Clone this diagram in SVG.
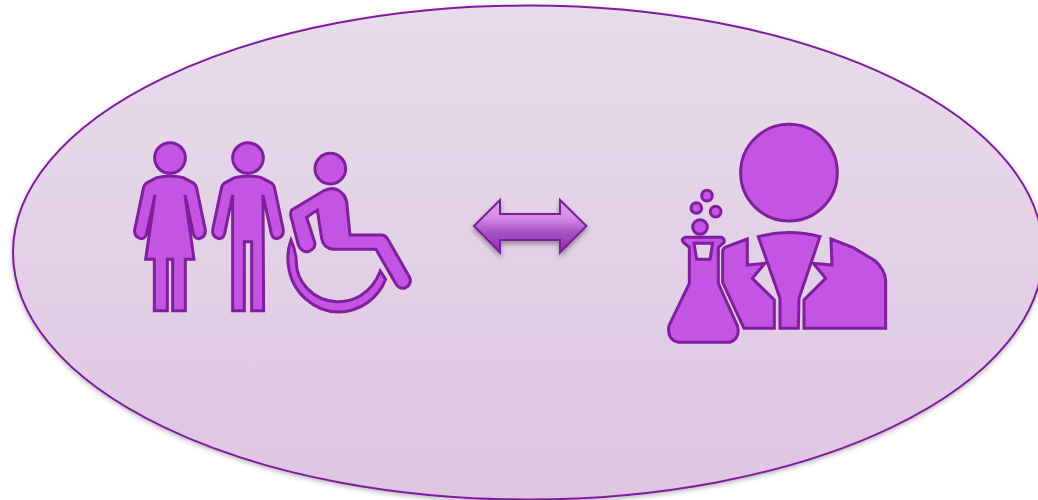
<svg xmlns="http://www.w3.org/2000/svg" width="1038" height="500" viewBox="0 0 1038 500">
<defs>
<linearGradient id="bg" x1="0" y1="0" x2="0" y2="1"><stop offset="0" stop-color="#e7dcea"/><stop offset="1" stop-color="#dec5e2"/></linearGradient>
<linearGradient id="arrowFill" x1="0" y1="0" x2="0" y2="1"><stop offset="0" stop-color="#dfa0ec"/><stop offset="0.35" stop-color="#d38be6"/><stop offset="0.6" stop-color="#a954c6"/><stop offset="1" stop-color="#8c2cab"/></linearGradient>
<filter id="shadowE" x="-5%" y="-5%" width="110%" height="110%"><feDropShadow dx="0" dy="2" stdDeviation="2.500" flood-color="#000" flood-opacity="0.28"/></filter>
<filter id="shadowA" x="-10%" y="-20%" width="120%" height="150%"><feDropShadow dx="0" dy="3" stdDeviation="2.500" flood-color="#000" flood-opacity="0.35"/></filter>
</defs>
<style>
.ico{fill:#c455e2;stroke:#7f1f9e;stroke-width:9;stroke-linejoin:miter;fill-rule:evenodd}
</style>
<g id="background"><ellipse cx="528" cy="252.500" rx="515" ry="247" fill="url(#bg)" stroke="#7f1f9e" stroke-width="2" filter="url(#shadowE)"/></g>
<g id="people" transform="translate(120 130) scale(0.3333)">
<g id="woman"><circle class="ico" cx="150" cy="84" r="46"/>
<path class="ico" d="M110 143Q150 133 190 143L222 160Q228 165 230 175L256 300Q258 320 238 326Q224 326 220 310L195 195L222 388L196 388L196 542L158 542L158 388L142 388L142 542L103 542L103 388L77 388L105 195L80 310Q76 326 62 326Q42 320 44 300L70 175Q72 165 78 160Z"/></g>
<g id="man"><circle class="ico" cx="384" cy="84" r="46"/>
<path class="ico" d="M344 143Q384 133 424 143L456 160Q462 165 464 175L490 300Q492 320 472 326Q458 326 454 310L429 195L431 542L395 542L395 335L373 335L373 542L338 542L338 195L314 310Q310 326 296 326Q276 320 278 300L304 175Q306 165 312 160Z"/></g>
<g id="wheelchair-user"><circle class="ico" cx="631" cy="116" r="46"/>
<path class="ico" d="M515 240L610 183Q630 172 650 178Q675 190 680 215L690 315L785 315Q795 315 802 325L868 440Q878 462 855 474Q838 478 828 462L768 358L640 358Q610 355 605 325L592 240L560 262L585 340Q585 358 565 365Q545 368 535 345L513 260Q510 248 515 240Z"/>
<path class="ico" d="M513 330Q500 365 505 405C515 490 585 546 655 546C720 546 775 505 797 448L781 423C755 490 700 517 650 515C580 513 528 455 529 395Q527 360 513 330Z"/></g>
</g>
<g id="connectors"><path id="double-arrow" d="M474 226L500 200V214H560V200L586.500 226L560 252.500V240H500V252.500Z" fill="url(#arrowFill)" stroke="#7f1f9e" stroke-width="2" filter="url(#shadowA)"/></g>
<g id="scientist" transform="translate(650 115) scale(0.3333)">
<circle class="ico" cx="417" cy="173" r="145"/>
<circle class="ico" cx="171" cy="242" r="16"/><circle class="ico" cx="139" cy="279" r="16"/><circle class="ico" cx="197" cy="290" r="16"/><circle class="ico" cx="150" cy="336" r="22"/>
<path class="ico" d="M105 367L215 367Q225 372 222 382L205 397L205 505L262 632Q272 670 240 682L85 682Q50 675 57 632L118 505L118 397L100 382Q92 372 105 367ZM132 385L140 433L180 433L188 385Z"/>
<path class="ico" d="M292 372L292 450L345 445L307 490L373 555L373 640L282 640L218 502L218 408Q220 398 230 395Z"/>
<path class="ico" d="M325 365Q417 340 510 365L447 550L445 640L390 640L390 550Z"/>
<path class="ico" d="M543 372L610 398L675 437Q705 465 707 495L707 640L462 640L462 555L527 490L490 445L546 450Z"/>
</g>
</svg>
